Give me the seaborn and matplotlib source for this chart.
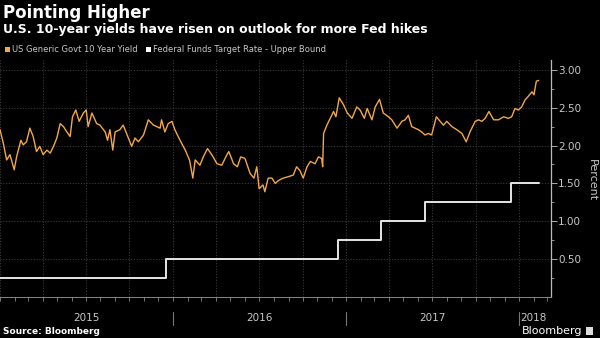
import numpy as np
import pandas as pd
import matplotlib
matplotlib.use("Agg")
import matplotlib.pyplot as plt
import matplotlib.dates as mdates
import matplotlib.transforms as mtrans
from matplotlib.patches import Rectangle
import seaborn as sns

# ---------------- data ----------------
start_date = "2015-01-01"
# days since 2015-01-01 and US 10-year yield (%)
yield_days = [0, 7, 14, 21, 30, 35, 44, 49, 56, 63, 70, 77, 84, 91, 99, 106, 113, 120,
              127, 134, 141, 148, 153, 160, 167, 176, 182, 186, 194, 204, 211, 222, 227,
              232, 238, 243, 253, 260, 267, 278, 285, 292, 303, 313, 324, 338, 341, 348,
              355, 363, 369, 380, 391, 400, 407, 412, 422, 429, 438, 447, 458, 468, 479,
              483, 493, 501, 508, 517, 528, 536, 542, 547, 555, 559, 566, 574, 581, 588,
              598, 609, 619, 626, 633, 640, 648, 655, 665, 672, 679, 681, 683, 690, 697,
              704, 709, 716, 725, 733, 743, 753, 760, 769, 775, 785, 792, 801, 809, 820,
              827, 838, 845, 848, 855, 862, 869, 876, 883, 890, 897, 904, 911, 921, 929,
              936, 943, 954, 964, 975, 984, 992, 1003, 1010, 1017, 1024, 1032, 1042, 1052,
              1063, 1073, 1080, 1087, 1094, 1101, 1108, 1115, 1123, 1127, 1132, 1137]
yield_values = [2.21, 2.03, 1.81, 1.88, 1.68, 1.85, 2.07, 2.01, 2.05, 2.23, 2.12, 1.92, 1.99,
                1.88, 1.94, 1.90, 1.99, 2.10, 2.29, 2.25, 2.18, 2.12, 2.38, 2.47, 2.32, 2.43,
                2.47, 2.25, 2.43, 2.29, 2.27, 2.18, 2.07, 2.21, 1.94, 2.18, 2.21, 2.27, 2.16,
                1.99, 2.10, 2.05, 2.14, 2.34, 2.27, 2.23, 2.34, 2.18, 2.29, 2.32, 2.21, 2.07,
                1.94, 1.81, 1.57, 1.81, 1.74, 1.85, 1.96, 1.88, 1.76, 1.74, 1.88, 1.92, 1.76,
                1.72, 1.85, 1.83, 1.63, 1.57, 1.72, 1.43, 1.48, 1.39, 1.57, 1.57, 1.50, 1.54,
                1.57, 1.59, 1.61, 1.72, 1.67, 1.57, 1.72, 1.79, 1.76, 1.85, 1.83, 1.72, 2.16,
                2.27, 2.36, 2.45, 2.38, 2.63, 2.54, 2.43, 2.36, 2.51, 2.47, 2.36, 2.49, 2.34,
                2.51, 2.61, 2.43, 2.38, 2.34, 2.23, 2.29, 2.32, 2.34, 2.40, 2.25, 2.23, 2.21,
                2.18, 2.14, 2.16, 2.14, 2.38, 2.32, 2.27, 2.32, 2.25, 2.21, 2.16, 2.05, 2.18,
                2.32, 2.34, 2.32, 2.36, 2.45, 2.34, 2.34, 2.38, 2.36, 2.38, 2.49, 2.47, 2.51,
                2.60, 2.65, 2.71, 2.67, 2.85, 2.86]

fed_dates = ["2015-01-01", "2015-12-17", "2016-12-15", "2017-03-16", "2017-06-15",
             "2017-12-14", "2018-02-11"]
fed_values = [0.25, 0.50, 0.75, 1.00, 1.25, 1.50, 1.50]

year_labels = ["2015", "2016", "2017", "2018"]
y_ticks = [0.5, 1.0, 1.5, 2.0, 2.5, 3.0]

title = "Pointing Higher"
subtitle = "U.S. 10-year yields have risen on outlook for more Fed hikes"
legend_labels = ["US Generic Govt 10 Year Yield", "Federal Funds Target Rate - Upper Bound"]
source = "Source: Bloomberg"

# ---------------- frames ----------------
yld = pd.DataFrame({
    "date": pd.Timestamp(start_date) + pd.to_timedelta(yield_days, unit="D"),
    "value": yield_values,
})
fed = pd.DataFrame({"date": pd.to_datetime(fed_dates), "value": fed_values})

# ---------------- style ----------------
sns.set_style("dark", {"axes.facecolor": "black", "figure.facecolor": "black"})
plt.rcParams["font.family"] = ["DejaVu Sans"]

ORANGE = "#f2a848"
WHITE = "#e6e6e6"
GRID = "#3a3a3a"
TXT = "#c8c8c8"

W, H = 600, 338
fig = plt.figure(figsize=(6, 3.38), dpi=100, facecolor="black")
ax_left, ax_right, ax_top, ax_bot = 0, 551, 60, 297
ax = fig.add_axes([ax_left / W, 1 - ax_bot / H, (ax_right - ax_left) / W, (ax_bot - ax_top) / H])
ax.set_facecolor("black")

sns.lineplot(data=yld, x="date", y="value", ax=ax, color=ORANGE, linewidth=1.0)
sns.lineplot(data=fed, x="date", y="value", ax=ax, color=WHITE, linewidth=1.4,
             drawstyle="steps-post")

ax.set_xlim(pd.Timestamp("2015-01-01"), pd.Timestamp("2018-03-09"))
ax.set_ylim(0, 3.13)
ax.set_xlabel("")
ax.set_ylabel("")

# grid
ax.xaxis.set_major_locator(mdates.MonthLocator(bymonth=[1, 4, 7, 10]))
ax.xaxis.set_minor_locator(mdates.MonthLocator())
ax.xaxis.set_major_formatter(plt.NullFormatter())
ax.grid(True, which="major", axis="both", color=GRID, linestyle=(0, (1, 1.5)), linewidth=0.8)
ax.tick_params(axis="x", which="both", direction="out", length=3, color="#888888",
               width=0.6, bottom=True)

ax.yaxis.tick_right()
ax.set_yticks(y_ticks)
ax.set_yticklabels([f"{v:.2f}" for v in y_ticks])
ax.set_yticks([0.25, 0.75, 1.25, 1.75, 2.25, 2.75], minor=True)
ax.tick_params(axis="y", which="major", direction="out", length=4, color="#aaaaaa",
               labelcolor=TXT, labelsize=7.5, pad=1, width=0.7)
ax.tick_params(axis="y", which="minor", direction="out", length=2, color="#aaaaaa", width=0.6)

for s in ["left", "top"]:
    ax.spines[s].set_visible(False)
ax.spines["right"].set_color("#bbbbbb")
ax.spines["right"].set_linewidth(0.9)
ax.spines["bottom"].set_color("#888888")
ax.spines["bottom"].set_linewidth(0.7)

# year labels and separators
blend = mtrans.blended_transform_factory(ax.transData, ax.transAxes)
centers = ["2015-07-02", "2016-07-02", "2017-07-02"]
for lab, c in zip(year_labels[:3], centers):
    ax.text(mdates.date2num(pd.Timestamp(c)), -0.089, lab, transform=blend, ha="center",
            va="center", color=TXT, fontsize=7.5)
ax.text(mdates.date2num(pd.Timestamp("2018-01-04")), -0.089, year_labels[3], transform=blend,
        ha="left", va="center", color=TXT, fontsize=7.5)
for yr in ["2016-01-01", "2017-01-01", "2018-01-01"]:
    xv = mdates.date2num(pd.Timestamp(yr))
    ax.plot([xv, xv], [-0.063, -0.118], transform=blend, color="#777777", lw=0.8, clip_on=False)

# percent label
fig.text(592 / W, 1 - 180 / H, "Percent", rotation=270, ha="center", va="center",
         color=TXT, fontsize=8)

# titles
fig.text(3 / W, 1 - 13 / H, title, ha="left", va="center", color="white", fontsize=12,
         fontweight="bold")
fig.text(3 / W, 1 - 30 / H, subtitle, ha="left", va="center", color="white", fontsize=9,
         fontweight="bold")

# legend
fig.patches.append(Rectangle((5 / W, 1 - 52 / H), 5 / W, 5 / H, transform=fig.transFigure,
                             facecolor=ORANGE, edgecolor="none"))
fig.text(12 / W, 1 - 49.5 / H, legend_labels[0], ha="left", va="center", color=TXT, fontsize=6)
fig.patches.append(Rectangle((146 / W, 1 - 52 / H), 5 / W, 5 / H, transform=fig.transFigure,
                             facecolor="white", edgecolor="none"))
fig.text(153 / W, 1 - 49.5 / H, legend_labels[1], ha="left", va="center", color=TXT, fontsize=6)

# footer
fig.text(3 / W, 1 - 331 / H, source, ha="left", va="center", color="white", fontsize=6.5,
         fontweight="bold")
fig.text(582 / W, 1 - 331 / H, "Bloomberg", ha="right", va="center", color="white", fontsize=8)
fig.patches.append(Rectangle((586 / W, 1 - 335 / H), 7 / W, 8 / H, transform=fig.transFigure,
                             facecolor="#dddddd", edgecolor="none"))

fig.savefig("out.png", dpi=100, facecolor="black")
